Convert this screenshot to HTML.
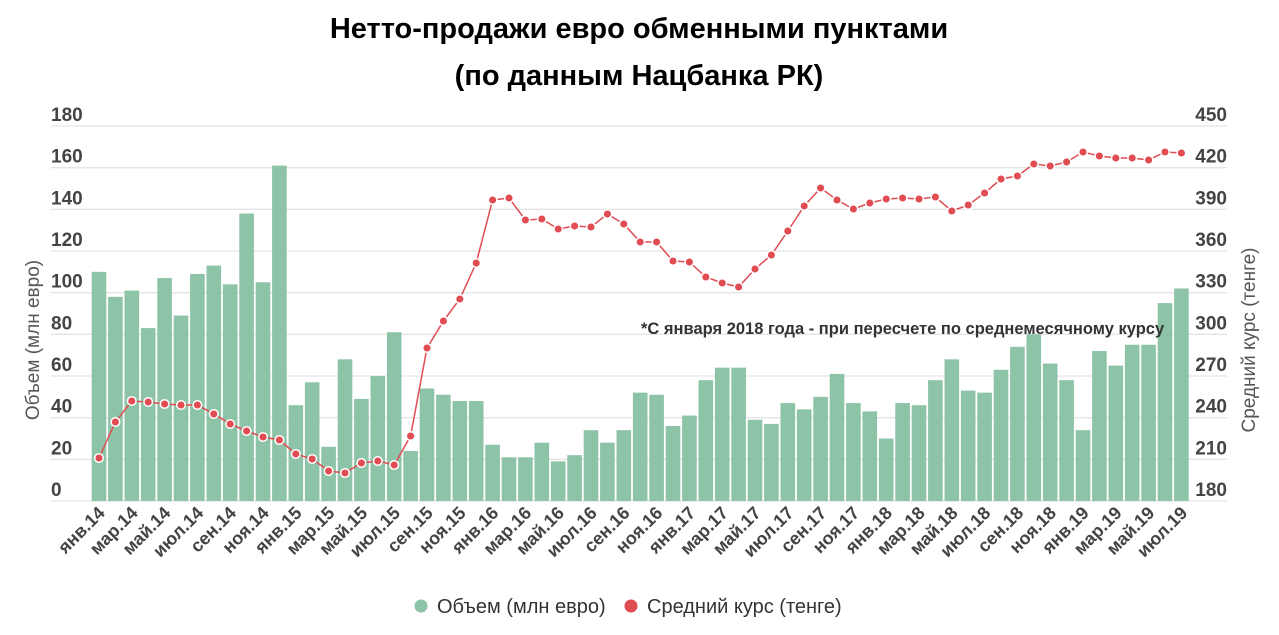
<!DOCTYPE html>
<html><head><meta charset="utf-8"><style>
body{margin:0;background:#fff;width:1279px;height:630px;overflow:hidden;font-family:"Liberation Sans","DejaVu Sans",sans-serif}
</style></head><body>
<svg id="s" width="1279" height="630" xmlns="http://www.w3.org/2000/svg" font-family="Liberation Sans, DejaVu Sans, sans-serif">
<text x="639" y="38" text-anchor="middle" font-size="29" font-weight="bold" fill="#000">Нетто-продажи евро обменными пунктами</text>
<text x="639" y="85" text-anchor="middle" font-size="29" font-weight="bold" fill="#000">(по данным Нацбанка РК)</text>
<g id="g"></g>
<text x="641" y="334" font-size="16.5" font-weight="bold" fill="#333">*С января 2018 года - при пересчете по среднемесячному курсу</text>
<text transform="translate(39,340) rotate(-90)" text-anchor="middle" font-size="19" fill="#555">Объем (млн евро)</text>
<text transform="translate(1255,340) rotate(-90)" text-anchor="middle" font-size="19" fill="#555">Средний курс (тенге)</text>
<circle cx="421" cy="606" r="6.5" fill="#8dc3a7"/>
<text x="437" y="613" font-size="20" fill="#333">Объем (млн евро)</text>
<circle cx="631" cy="606" r="6.5" fill="#e04c52"/>
<text x="647" y="613" font-size="20" fill="#333">Средний курс (тенге)</text>
</svg>
<script>
var bars=[110,98,101,83,107,89,109,113,104,138,105,161,46,57,26,68,49,60,81,24,54,51,48,48,27,21,21,28,19,22,34,28,34,52,51,36,41,58,64,64,39,37,47,44,50,61,47,43,30,47,46,58,68,53,52,63,74,80,66,58,34,72,65,75,75,95,102];
var dots=[458,422,401,402,404,405,405,414,424,431,437,440,454,459,471,473,463,461,465,436,348,321,299,263,200,198,220,219,229,226,227,214,224,242,242,261,262,277,283,287,269,255,231,206,188,200,209,203,199,198,199,197,211,205,193,179,176,164,166,162,152,156,158,158,160,152,153];
var m=["янв","мар","май","июл","сен","ноя"];
var h="";
for(var i=0;i<10;i++){var y=126+i*375/9;h+='<line x1="51" x2="1227" y1="'+y+'" y2="'+y+'" stroke="#e4e4e4" stroke-width="1.3"/>';
h+='<text x="51" y="'+(y-5)+'" font-size="19" fill="#444" font-weight="bold">'+(180-20*i)+'</text>';
h+='<text x="1227" y="'+(y-5)+'" text-anchor="end" font-size="19" fill="#444" font-weight="bold">'+(450-30*i)+'</text>';}
for(var i=0;i<67;i++){var x=91.7+16.4*i,y=501-bars[i]*375/180;
h+='<rect x="'+x+'" y="'+y+'" width="14.6" height="'+(501-y)+'" fill="#8dc3a7"/>';}
var p="";for(var i=0;i<67;i++){p+=(i?"L":"M")+(99+16.4*i)+","+dots[i];}
h+='<path d="'+p+'" fill="none" stroke="#e04c52" stroke-width="1.5"/>';
for(var i=0;i<67;i++){h+='<circle cx="'+(99+16.4*i)+'" cy="'+dots[i]+'" r="4.3" fill="#e04c52" stroke="#fff" stroke-width="1.5"/>';}
for(var i=0;i<67;i+=2){var x=99+16.4*i+7,yr=14+Math.floor(i/12);
h+='<text transform="translate('+x+',514) rotate(-45)" text-anchor="end" font-size="18" font-weight="bold" fill="#444">'+m[(i%12)/2]+'.'+yr+'</text>';}
document.getElementById("g").innerHTML=h;
</script>
</body></html>
